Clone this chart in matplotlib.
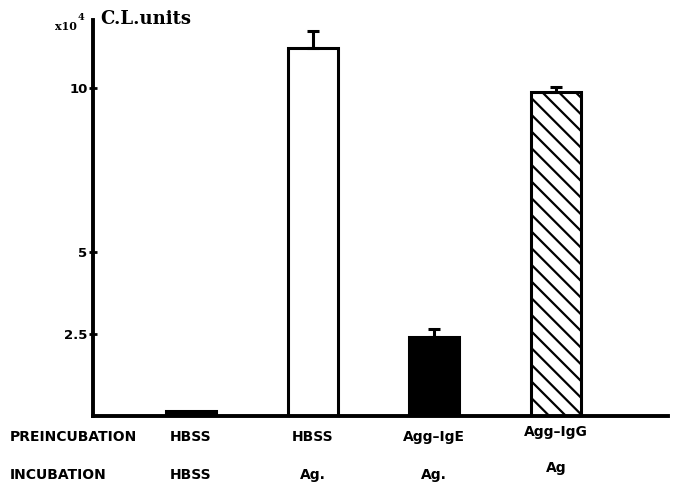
import matplotlib
matplotlib.use("Agg")
import matplotlib.pyplot as plt
from matplotlib.transforms import blended_transform_factory

preincubation = ["HBSS", "HBSS", "Agg\u2013IgE", "Agg\u2013IgG"]
incubation = ["HBSS", "Ag.", "Ag.", "Ag"]
values = [0.15, 11.22, 2.41, 9.89]
errors = [0.0, 0.52, 0.24, 0.15]
yticks = [2.5, 5, 10]
yticklabels = ["2.5", "5", "10"]

W, H = 677, 484
fig = plt.figure(figsize=(W / 100, H / 100), dpi=100)
ax = fig.add_axes([93 / W, (H - 416) / H, (668 - 93) / W, (416 - 20) / H])

x = [0, 1, 2, 3]
faces = ["black", "white", "black", "white"]
hatches = [None, None, None, "\\\\"]
plt.rcParams['hatch.linewidth'] = 1.6
for xi, v, e, fc, h in zip(x, values, errors, faces, hatches):
    ax.bar(xi, v, width=0.41, color=fc, edgecolor="black", linewidth=2.2,
           hatch=h, zorder=2)
    if e > 0:
        ax.errorbar(xi, v, yerr=[[0], [e]], fmt="none", ecolor="black",
                    elinewidth=2.2, capsize=4, capthick=2.2, zorder=3)

ax.set_xlim(-0.805, 3.92)
ax.set_ylim(0, 12.07)
for s in ["top", "right"]:
    ax.spines[s].set_visible(False)
ax.spines["left"].set_linewidth(2.8)
ax.spines["bottom"].set_linewidth(2.8)
ax.set_xticks([])
ax.set_yticks(yticks)
ax.set_yticklabels(yticklabels, fontsize=9.5, fontweight="bold",
                   family=["Liberation Sans Narrow", "DejaVu Sans"])
ax.tick_params(axis="y", direction="inout", length=6, width=2, pad=1)

fig.text(55 / W, 1 - 26 / H, "x10", fontsize=8, fontweight="bold",
         family="DejaVu Serif", va="center")
fig.text(78 / W, 1 - 17 / H, "4", fontsize=7, fontweight="bold",
         family="DejaVu Serif", va="center")
fig.text(100 / W, 1 - 19 / H, "C.L.units", fontsize=13, fontweight="bold",
         family="DejaVu Serif", va="center")

lab_kw = dict(fontsize=10, fontweight="bold",
              family=["Liberation Sans Narrow", "DejaVu Sans"])
fig.text(10 / W, 1 - 437 / H, "PREINCUBATION", va="center", ha="left", **lab_kw)
fig.text(10 / W, 1 - 475 / H, "INCUBATION", va="center", ha="left", **lab_kw)

tr = blended_transform_factory(ax.transData, fig.transFigure)
pre_y = [437, 437, 437, 432]
inc_y = [475, 475, 475, 468]
for xi, p, i, py, iy in zip(x, preincubation, incubation, pre_y, inc_y):
    ax.text(xi, 1 - py / H, p, transform=tr, ha="center", va="center",
            clip_on=False, **lab_kw)
    ax.text(xi, 1 - iy / H, i, transform=tr, ha="center", va="center",
            clip_on=False, **lab_kw)

fig.savefig("out.png", dpi=100)
